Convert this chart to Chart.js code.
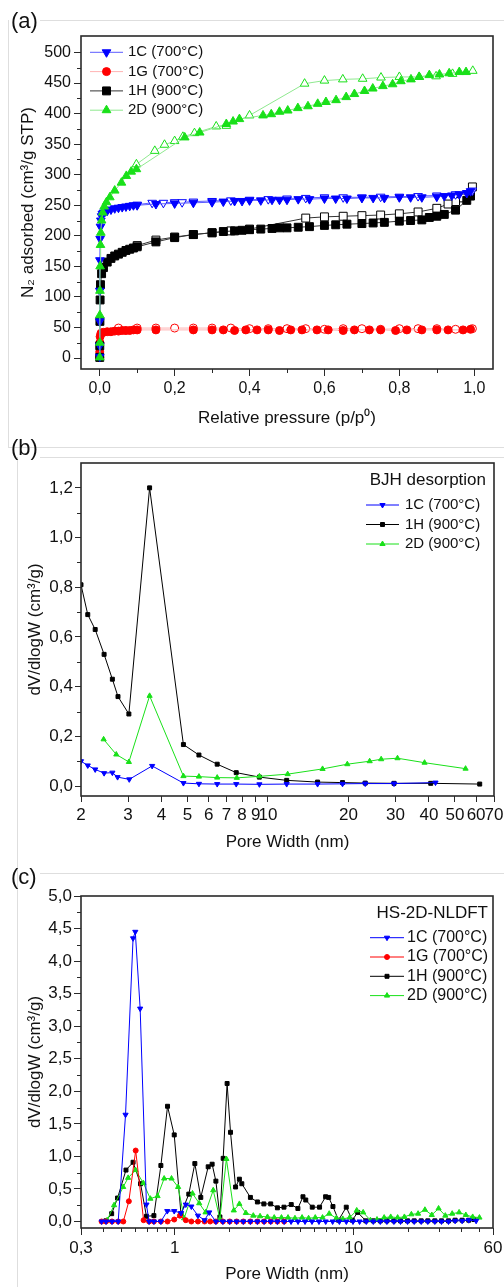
<!DOCTYPE html>
<html>
<head>
<meta charset="utf-8">
<script src="https://cdn.jsdelivr.net/npm/chart.js"></script>
<style>
  html, body { margin: 0; padding: 0; background: #fff; }
  body { width: 504px; height: 1287px; position: relative; overflow: hidden; font-family: "Liberation Sans", Arial, sans-serif; }
  canvas { position: absolute; left: 0; }
  .tag { position: absolute; left: 11px; font-size: 22px; line-height: 22px; color: #111; }
  .rule { position: absolute; background: #dedede; }
</style>
</head>
<body>
<div class="rule" style="left:8px;top:20px;width:1px;height:427px"></div>
<div class="rule" style="left:40px;top:20px;width:464px;height:1px"></div>
<div class="rule" style="left:8px;top:447px;width:496px;height:1px"></div>
<div class="rule" style="left:17px;top:457px;width:1px;height:830px"></div>
<div class="rule" style="left:40px;top:457px;width:464px;height:1px"></div>
<div class="rule" style="left:40px;top:873px;width:464px;height:1px"></div>

<canvas id="chartA" width="504" height="440" style="top:0"></canvas>
<canvas id="chartB" width="504" height="420" style="top:440px"></canvas>
<canvas id="chartC" width="504" height="427" style="top:860px"></canvas>

<div class="tag" style="top:10px">(a)</div>
<div class="tag" style="top:437px">(b)</div>
<div class="tag" style="top:866px">(c)</div>

<script>
// ---- sample names ----
const samples = ['1C (700°C)', '1G (700°C)', '1H (900°C)', '2D (900°C)'];

// ---- (a) N2 isotherms: relative pressure / adsorbed volume ----
// adsorption (filled) and desorption (open) branches
const aP1C = [0.00002, 0.00005, 0.0001, 0.0002, 0.0005, 0.001, 0.002, 0.003, 0.005, 0.007,
  0.01, 0.015, 0.02, 0.03, 0.04, 0.05, 0.06, 0.07, 0.08, 0.09,
  0.1, 0.15, 0.2, 0.25, 0.3, 0.33, 0.36, 0.38, 0.4, 0.43,
  0.46, 0.48, 0.5, 0.53, 0.56, 0.6, 0.63, 0.66, 0.7, 0.73,
  0.76, 0.8, 0.83, 0.86, 0.9, 0.92, 0.94, 0.96, 0.98, 0.99];
const aV1C = [2, 20, 60, 110, 160, 195, 215, 225, 232, 236,
  238, 240, 241, 243, 245, 246, 247, 248, 249, 250,
  250, 252, 253, 254, 255, 256, 257, 257, 258, 258,
  259, 259, 259, 260, 260, 261, 261, 261, 262, 262,
  262, 263, 263, 263, 264, 265, 266, 268, 270, 273];
const aP1Cdes = [0.995, 0.95, 0.9, 0.85, 0.8, 0.75, 0.7, 0.65, 0.6, 0.55, 0.5, 0.45, 0.4, 0.35, 0.3, 0.25, 0.22, 0.2, 0.17, 0.14, 0.1];
const aV1Cdes = [274, 268, 266, 265, 264, 264, 263, 263, 263, 262, 261, 260, 259, 258, 257, 256, 255, 255, 254, 254, 251];

const aP1G = [0.00002, 0.0001, 0.0005, 0.001, 0.003, 0.005, 0.01, 0.02, 0.03, 0.04,
  0.05, 0.06, 0.07, 0.08, 0.09, 0.1, 0.15, 0.25, 0.3, 0.33,
  0.36, 0.39, 0.42, 0.45, 0.48, 0.51, 0.54, 0.58, 0.61, 0.65,
  0.68, 0.72, 0.75, 0.79, 0.82, 0.86, 0.9, 0.93, 0.97, 0.99];
const aV1G = [1, 10, 25, 35, 40, 41, 42, 43, 43, 44,
  44, 45, 45, 45, 46, 46, 46, 46, 46, 46,
  45, 46, 46, 46, 45, 46, 46, 46, 46, 45,
  46, 46, 46, 45, 46, 46, 46, 46, 46, 47];
const aP1Gdes = [0.995, 0.95, 0.9, 0.85, 0.8, 0.75, 0.7, 0.65, 0.6, 0.55, 0.5, 0.45, 0.4, 0.35, 0.3, 0.25, 0.2, 0.15, 0.1, 0.05];
const aV1Gdes = [48, 47, 48, 48, 48, 47, 48, 48, 47, 48, 48, 48, 48, 49, 49, 49, 49, 49, 49, 49];

const aP1H = [0.00002, 0.0001, 0.0005, 0.001, 0.002, 0.005, 0.01, 0.02, 0.03, 0.04,
  0.05, 0.06, 0.07, 0.08, 0.09, 0.1, 0.15, 0.2, 0.25, 0.3,
  0.33, 0.36, 0.38, 0.4, 0.43, 0.46, 0.48, 0.5, 0.53, 0.56,
  0.6, 0.63, 0.66, 0.7, 0.73, 0.76, 0.8, 0.83, 0.86, 0.88,
  0.9, 0.92, 0.95, 0.98, 0.99];
const aV1H = [1, 20, 60, 95, 120, 138, 148, 157, 163, 167,
  170, 173, 176, 178, 180, 182, 190, 197, 202, 205,
  207, 208, 209, 210, 211, 212, 213, 213, 214, 215,
  217, 218, 219, 220, 221, 222, 224, 225, 226, 230,
  232, 235, 242, 258, 265];
const aP1Hdes = [0.995, 0.97, 0.95, 0.93, 0.9, 0.85, 0.8, 0.75, 0.7, 0.65, 0.6, 0.55, 0.4, 0.35, 0.3, 0.25, 0.2, 0.15, 0.1];
const aV1Hdes = [280, 262, 256, 252, 245, 239, 236, 234, 233, 232, 231, 229, 211, 208, 205, 202, 198, 193, 184];

const aP2D = [0.00002, 0.0001, 0.0003, 0.0006, 0.001, 0.002, 0.003, 0.005, 0.008, 0.012,
  0.018, 0.027, 0.04, 0.058, 0.071, 0.084, 0.098, 0.227, 0.267, 0.338,
  0.356, 0.373, 0.436, 0.458, 0.48, 0.502, 0.529, 0.556, 0.582, 0.604,
  0.631, 0.658, 0.68, 0.707, 0.729, 0.756, 0.782, 0.804, 0.831, 0.853,
  0.88, 0.907, 0.933, 0.96, 0.978];
const aV2D = [1, 25, 70, 110, 150, 185, 205, 225, 238, 248,
  255, 263, 274, 287, 298, 305, 309, 361, 369, 383,
  387, 391, 397, 399, 403, 405, 409, 412, 416, 419,
  422, 427, 432, 437, 441, 445, 448, 453, 456, 460,
  463, 464, 466, 468, 468];
const aP2Ddes = [0.996, 0.942, 0.898, 0.853, 0.8, 0.751, 0.702, 0.649, 0.6, 0.547, 0.4, 0.338, 0.311, 0.253, 0.222, 0.2, 0.173, 0.147, 0.098];
const aV2Ddes = [470, 465, 461, 460, 460, 459, 457, 456, 454, 449, 397, 380, 379, 368, 362, 355, 349, 339, 317];

const aXTicks = [0, 0.2, 0.4, 0.6, 0.8, 1.0];
const aXMinor = [0.1, 0.3, 0.5, 0.7, 0.9];
const aYTicks = [0, 50, 100, 150, 200, 250, 300, 350, 400, 450, 500];
const aYMinor = [25, 75, 125, 175, 225, 275, 325, 375, 425, 475];

// ---- (b) BJH desorption: pore width / dV/dlogW ----
const bW1C = [2.0, 2.12, 2.26, 2.44, 2.62, 2.74, 3.03, 3.69, 4.83, 5.52, 6.46, 7.61, 9.29, 11.75, 15.33, 19.0, 23.1, 29.6, 42.3];
const bV1C = [0.100, 0.083, 0.067, 0.052, 0.054, 0.036, 0.027, 0.081, 0.012, 0.009, 0.008, 0.008, 0.007, 0.008, 0.008, 0.009, 0.010, 0.010, 0.014];
const bW1H = [2.0, 2.12, 2.26, 2.44, 2.62, 2.75, 3.02, 3.61, 4.83, 5.52, 6.46, 7.61, 9.29, 11.75, 15.33, 19.0, 23.1, 29.6, 40.6, 61.9];
const bV1H = [0.81, 0.69, 0.63, 0.53, 0.43, 0.36, 0.29, 1.20, 0.167, 0.125, 0.088, 0.054, 0.036, 0.023, 0.016, 0.014, 0.012, 0.011, 0.011, 0.008];
const bW2D = [2.43, 2.71, 3.02, 3.61, 4.83, 5.52, 6.46, 7.65, 9.29, 11.85, 16.0, 19.8, 24.0, 26.5, 30.5, 38.5, 54.8];
const bV2D = [0.188, 0.127, 0.097, 0.363, 0.040, 0.038, 0.034, 0.033, 0.039, 0.048, 0.069, 0.088, 0.100, 0.108, 0.112, 0.094, 0.070];

const bXTicks = [2, 3, 4, 5, 6, 7, 8, 9, 10, 20, 30, 40, 50, 60, 70];
const bYTicks = [0, 0.2, 0.4, 0.6, 0.8, 1.0, 1.2];
const bYMinor = [0.1, 0.3, 0.5, 0.7, 0.9, 1.1];

// ---- (c) HS-2D-NLDFT: pore width / dV/dlogW ----
const cW1C = [0.391, 0.414, 0.447, 0.484, 0.532, 0.586, 0.603, 0.642, 0.696, 0.72,
  0.766, 0.838, 0.91, 0.995, 1.085, 1.155, 1.24, 1.35, 1.47, 1.56,
  1.70, 1.86, 2.03, 2.22, 2.42, 2.65, 2.90, 3.16, 3.44, 3.75,
  4.09, 4.47, 4.89, 5.35, 5.85, 6.40, 6.98, 7.63, 8.32, 9.10,
  9.91, 10.79, 11.76, 12.87, 14.08, 15.33, 16.78, 18.27, 20.0, 21.78,
  23.83, 25.95, 28.4, 30.93, 33.85, 36.86, 40.34, 43.94, 48.3];
const cV1C = [0, 0, 0, 0, 1.64, 4.35, 4.45, 3.27, 0.26, 0,
  0, 0, 0.16, 0.16, 0.13, 0.26, 0.23, 0.09, 0.02, 0.14,
  0, 0, 0, 0, 0, 0, 0, 0, 0, 0,
  0, 0, 0, 0, 0, 0, 0, 0, 0, 0,
  0, 0, 0, 0, 0, 0, 0, 0, 0, 0,
  0, 0, 0, 0, 0, 0.01, 0.01, 0.02, 0.01];

const cW1G = [0.391, 0.414, 0.447, 0.484, 0.517, 0.555, 0.606, 0.671, 0.72, 0.766,
  0.838, 0.913, 0.995, 1.07, 1.155, 1.24, 1.35, 1.47, 1.58, 1.70,
  1.86, 2.03, 2.22, 2.42, 2.65, 2.90, 3.16, 3.44, 3.75, 4.09];
const cV1G = [0, 0, 0, 0, 0, 0.31, 1.09, 0.02, 0, 0,
  0, 0, 0.03, 0.09, 0.02, 0, 0, 0, 0, 0,
  0, 0, 0, 0, 0, 0, 0, 0, 0, 0];

const cW1H = [0.413, 0.445, 0.48, 0.535, 0.586, 0.645, 0.696, 0.766, 0.838, 0.913,
  0.995, 1.085, 1.20, 1.297, 1.40, 1.54, 1.62, 1.70, 1.79, 1.867,
  1.964, 2.052, 2.19, 2.30, 2.373, 2.65, 2.90, 3.15, 3.44, 3.75,
  4.08, 4.48, 4.88, 5.21, 5.40, 5.87, 6.45, 6.97, 7.25, 7.66,
  8.23, 9.09, 9.82, 10.53, 11.7, 12.87, 14.08, 15.33, 16.78, 18.27,
  20.0, 21.78, 23.83, 25.95, 28.4, 30.93, 33.85, 36.86, 40.34, 43.94, 47.0];
const cV1H = [0.01, 0.12, 0.36, 0.79, 0.91, 0.58, 0.08, 0.09, 0.86, 1.77,
  1.33, 0.12, 0.42, 0.89, 0.37, 0.84, 0.88, 0.62, 0.07, 0.97,
  2.12, 1.37, 0.53, 0.65, 0.58, 0.37, 0.30, 0.27, 0.27, 0.21,
  0.22, 0.26, 0.20, 0.38, 0.33, 0.22, 0.22, 0.38, 0.37, 0.23,
  0.02, 0.22, 0.02, 0.14, 0.01, 0.01, 0.01, 0.01, 0.01, 0.01,
  0.01, 0.01, 0.01, 0.01, 0.01, 0.01, 0.01, 0.02, 0.02, 0.02, 0.03];

const cW2D = [0.42, 0.459, 0.516, 0.55, 0.605, 0.669, 0.732, 0.803, 0.874, 0.961,
  1.046, 1.13, 1.259, 1.372, 1.488, 1.643, 1.79, 1.946, 2.14, 2.30,
  2.50, 2.75, 3.0, 3.3, 3.6, 3.95, 4.3, 4.7, 5.15, 5.6,
  6.1, 6.7, 7.3, 8.0, 8.7, 9.5, 10.4, 11.3, 12.4, 13.5,
  14.8, 16.1, 17.6, 19.2, 21.0, 22.9, 25.0, 27.3, 29.8, 32.5,
  35.5, 38.8, 42.3, 46.2, 50.4];
const cV2D = [0.02, 0.25, 0.53, 0.67, 0.79, 0.59, 0.35, 0.39, 0.66, 0.66,
  0.53, 0.05, 0.43, 0.28, 0.14, 0.48, 0.04, 0.96, 0.17, 0.27,
  0.13, 0.09, 0.08, 0.07, 0.06, 0.06, 0.06, 0.05, 0.06, 0.05,
  0.06, 0.06, 0.12, 0.05, 0.04, 0.06, 0.17, 0.14, 0.02, 0.03,
  0.06, 0.07, 0.06, 0.07, 0.11, 0.12, 0.18, 0.10, 0.20, 0.09,
  0.12, 0.14, 0.10, 0.07, 0.06];

const cXTicks = [0.3, 1, 10, 60];
const cXMinor = [0.4, 0.5, 0.6, 0.7, 0.8, 0.9, 2, 3, 4, 5, 6, 7, 8, 9, 20, 30, 40, 50];
const cYTicks = [0, 0.5, 1.0, 1.5, 2.0, 2.5, 3.0, 3.5, 4.0, 4.5, 5.0];
const cYMinor = [0.25, 0.75, 1.25, 1.75, 2.25, 2.75, 3.25, 3.75, 4.25, 4.75];

// ---- shared styling ----
const fontFamily = '"Liberation Sans", Arial, sans-serif';
const frameColor = '#2a2a2a';
const textColor = '#111';
Chart.defaults.font.family = fontFamily;
Chart.defaults.color = textColor;

const colors = { c1C: '#0000ff', c1G: '#ff0000', c1H: '#000000', c2D: '#19e019' };

function pts(xs, ys) {
  return xs.map((x, i) => ({ x: x, y: ys[i] }));
}
function comma(v, d) {
  return v.toFixed(d).replace('.', ',');
}

// frame box + minor tick marks
const framePlugin = {
  id: 'frame',
  afterDraw(chart, args, opts) {
    const ctx = chart.ctx;
    const a = chart.chartArea;
    const xs = chart.scales.x, ys = chart.scales.y;
    ctx.save();
    ctx.strokeStyle = frameColor;
    ctx.lineWidth = 1;
    (opts.minorX || []).forEach(v => {
      const px = Math.round(xs.getPixelForValue(v)) + 0.5;
      ctx.beginPath();
      ctx.moveTo(px, a.bottom);
      ctx.lineTo(px, a.bottom + opts.minorLen);
      ctx.stroke();
    });
    (opts.minorY || []).forEach(v => {
      const py = Math.round(ys.getPixelForValue(v)) + 0.5;
      ctx.beginPath();
      ctx.moveTo(a.left - opts.minorLen, py);
      ctx.lineTo(a.left, py);
      ctx.stroke();
    });
    ctx.lineWidth = 1.6;
    ctx.strokeRect(a.left, a.top, a.right - a.left, a.bottom - a.top);
    ctx.restore();
  }
};

// legend with a short line and the marker on it
const legendPlugin = {
  id: 'sampleLegend',
  afterDraw(chart, args, opts) {
    const ctx = chart.ctx;
    ctx.save();
    ctx.textBaseline = 'middle';
    if (opts.title) {
      ctx.font = opts.titleSize + 'px ' + fontFamily;
      ctx.fillStyle = textColor;
      ctx.textAlign = 'right';
      ctx.fillText(opts.title, opts.titleX, opts.titleY);
    }
    ctx.font = opts.size + 'px ' + fontFamily;
    ctx.textAlign = 'left';
    chart.data.datasets.filter(d => d.inLegend).forEach((d, i) => {
      const y = opts.y + i * opts.step;
      ctx.strokeStyle = d.borderColor;
      ctx.lineWidth = d.borderWidth;
      ctx.beginPath();
      ctx.moveTo(opts.x, y);
      ctx.lineTo(opts.x + opts.lineLen, y);
      ctx.stroke();
      ctx.fillStyle = d.pointBackgroundColor;
      ctx.strokeStyle = d.pointBorderColor;
      ctx.lineWidth = 1;
      Chart.helpers.drawPoint(ctx, {
        pointStyle: d.pointStyle, rotation: d.pointRotation || 0,
        radius: d.pointRadius, borderWidth: 1
      }, opts.x + opts.lineLen / 2, y);
      ctx.fillStyle = textColor;
      ctx.fillText(d.label, opts.x + opts.lineLen + opts.gap, y);
    });
    ctx.restore();
  }
};

function xAxis(cfg) {
  return {
    type: cfg.type, min: cfg.min, max: cfg.max,
    afterBuildTicks: s => { s.ticks = cfg.ticks.map(v => ({ value: v })); },
    afterFit: s => { s.height = cfg.height; s.paddingLeft = 0; s.paddingRight = 0; },
    ticks: { callback: cfg.label, font: { size: cfg.size }, padding: 3, autoSkip: false, maxRotation: 0, minRotation: 0 },
    grid: { drawOnChartArea: false, tickLength: cfg.tickLen, tickColor: frameColor, tickWidth: 1 },
    border: { display: false },
    title: { display: true, text: cfg.title, font: { size: 17 }, color: textColor, padding: { top: 0, bottom: cfg.titlePad } }
  };
}
function yAxis(cfg) {
  return {
    type: 'linear', min: cfg.min, max: cfg.max,
    afterBuildTicks: s => { s.ticks = cfg.ticks.map(v => ({ value: v })); },
    afterFit: s => { s.width = 81; s.paddingTop = 0; s.paddingBottom = 0; },
    ticks: { callback: cfg.label, font: { size: cfg.size }, padding: cfg.tickPad },
    grid: { drawOnChartArea: false, tickLength: cfg.tickLen, tickColor: frameColor, tickWidth: 1 },
    border: { display: false },
    title: { display: true, text: cfg.title, font: { size: 17 }, color: textColor, padding: { top: cfg.titlePad, bottom: 0 } }
  };
}
function baseOptions(padding, xs, ys, frameOpts, legendOpts) {
  return {
    responsive: false,
    animation: false,
    devicePixelRatio: 1,
    layout: { padding: padding },
    scales: { x: xs, y: ys },
    plugins: {
      legend: { display: false },
      tooltip: { enabled: false },
      frame: frameOpts,
      sampleLegend: legendOpts
    }
  };
}

// marker styles per sample
const marks = {
  c1C: { pointStyle: 'triangle', pointRotation: 180 },
  c1G: { pointStyle: 'circle', pointRotation: 0 },
  c1H: { pointStyle: 'rect', pointRotation: 0 },
  c2D: { pointStyle: 'triangle', pointRotation: 0 }
};

// ---- chart (a) ----
function isoSet(key, label, xs, ys, open, order, lineColor, r) {
  return Object.assign({
    label: label,
    data: pts(xs, ys),
    showLine: true,
    inLegend: !open,
    order: order,
    borderColor: lineColor,
    borderWidth: 1,
    pointRadius: r,
    pointBorderWidth: 1,
    pointBackgroundColor: open ? '#ffffff' : colors[key],
    pointBorderColor: colors[key]
  }, marks[key]);
}

new Chart(document.getElementById('chartA'), {
  type: 'scatter',
  data: {
    datasets: [
      isoSet('c1C', samples[0], aP1C, aV1C, false, 2, '#5c5cff', 5),
      isoSet('c1G', samples[1], aP1G, aV1G, false, 6, '#ffb3b3', 4),
      isoSet('c1H', samples[2], aP1H, aV1H, false, 4, '#333333', 5.6),
      isoSet('c2D', samples[3], aP2D, aV2D, false, 0, '#8fe88f', 5),
      isoSet('c1C', samples[0], aP1Cdes, aV1Cdes, true, 3, '#5c5cff', 5),
      isoSet('c1G', samples[1], aP1Gdes, aV1Gdes, true, 7, '#ffb3b3', 4),
      isoSet('c1H', samples[2], aP1Hdes, aV1Hdes, true, 5, '#333333', 5.6),
      isoSet('c2D', samples[3], aP2Ddes, aV2Ddes, true, 1, '#8fe88f', 5)
    ]
  },
  options: baseOptions(
    { left: 0, top: 36, right: 11, bottom: 0 },
    xAxis({ type: 'linear', min: -0.05, max: 1.05, ticks: aXTicks, label: v => comma(v, 1),
      size: 16, tickLen: 7, height: 71, title: 'Relative pressure (p/p⁰)', titlePad: 11 }),
    yAxis({ min: -18, max: 527, ticks: aYTicks, label: v => String(v), size: 16,
      tickLen: 7, tickPad: 3, title: 'N₂ adsorbed (cm³/g STP)', titlePad: 18 }),
    { minorX: aXMinor, minorY: aYMinor, minorLen: 4 },
    { x: 90, y: 52.3, step: 19.3, lineLen: 33, gap: 5, size: 15 }
  ),
  plugins: [framePlugin, legendPlugin]
});

// ---- charts (b) and (c) ----
function psdSet(key, label, xs, ys, order, r) {
  return Object.assign({
    label: label,
    data: pts(xs, ys),
    showLine: true,
    inLegend: true,
    order: order,
    borderColor: colors[key],
    borderWidth: 1,
    pointRadius: r,
    pointBorderWidth: 1,
    pointBackgroundColor: colors[key],
    pointBorderColor: colors[key]
  }, marks[key]);
}

new Chart(document.getElementById('chartB'), {
  type: 'scatter',
  data: {
    datasets: [
      psdSet('c1C', samples[0], bW1C, bV1C, 0, 3),
      psdSet('c1H', samples[2], bW1H, bV1H, 2, 2.8),
      psdSet('c2D', samples[3], bW2D, bV2D, 1, 3)
    ]
  },
  options: baseOptions(
    { left: 0, top: 23, right: 10, bottom: 0 },
    xAxis({ type: 'logarithmic', min: 2, max: 70, ticks: bXTicks, label: v => String(v),
      size: 17, tickLen: 6, height: 64, title: 'Pore Width (nm)', titlePad: 7 }),
    yAxis({ min: -0.04, max: 1.3, ticks: bYTicks, label: v => comma(v, 1), size: 17,
      tickLen: 6, tickPad: 2, title: 'dV/dlogW (cm³/g)', titlePad: 25 }),
    { minorY: bYMinor, minorLen: 4 },
    { title: 'BJH desorption', titleSize: 17, titleX: 486, titleY: 40,
      x: 366, y: 65, step: 19.5, lineLen: 33, gap: 6, size: 15 }
  ),
  plugins: [framePlugin, legendPlugin]
});

new Chart(document.getElementById('chartC'), {
  type: 'scatter',
  data: {
    datasets: [
      psdSet('c1C', samples[0], cW1C, cV1C, 0, 3),
      psdSet('c1G', samples[1], cW1G, cV1G, 1, 2.5),
      psdSet('c1H', samples[2], cW1H, cV1H, 3, 2.8),
      psdSet('c2D', samples[3], cW2D, cV2D, 2, 3)
    ]
  },
  options: baseOptions(
    { left: 0, top: 36, right: 11, bottom: 0 },
    xAxis({ type: 'logarithmic', min: 0.3, max: 60, ticks: cXTicks, label: v => (v < 1 ? comma(v, 1) : String(v)),
      size: 17, tickLen: 7, height: 59, title: 'Pore Width (nm)', titlePad: 2 }),
    yAxis({ min: -0.1, max: 5.0, ticks: cYTicks, label: v => comma(v, 1), size: 17,
      tickLen: 7, tickPad: 2, title: 'dV/dlogW (cm³/g)', titlePad: 25 }),
    { minorX: cXMinor, minorY: cYMinor, minorLen: 4 },
    { title: 'HS-2D-NLDFT', titleSize: 17, titleX: 488, titleY: 53, 
      x: 370, y: 77.7, step: 19.3, lineLen: 34, gap: 3, size: 16 }
  ),
  plugins: [framePlugin, legendPlugin]
});
</script>
</body>
</html>
